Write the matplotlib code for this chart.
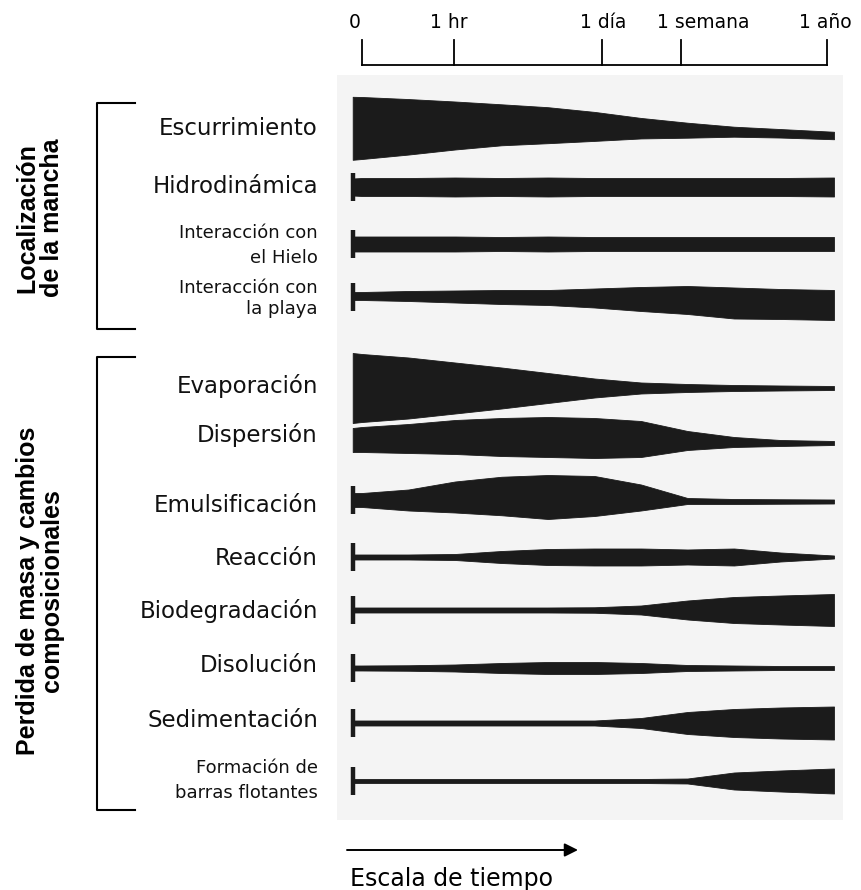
import numpy as np
import matplotlib.pyplot as plt

W, H = 862, 890

# time scale along the top (0 = spill, 1 = one year)
tick_labels = ['0', '1 hr', '1 día', '1 semana', '1 año']
tick_pos = [0.0, 0.198, 0.516, 0.686, 1.0]
label_pos = [-0.015, 0.187, 0.518, 0.733, 0.996]

# sample points along the time axis where the band widths were read
t = [-0.02, 0.0, 0.1, 0.2, 0.3, 0.4, 0.5, 0.6, 0.7, 0.8, 0.9, 1.015]

processes = ['Escurrimiento', 'Hidrodinámica', 'Interacción con\nel Hielo',
             'Interacción con\nla playa', 'Evaporación', 'Dispersión',
             'Emulsificación', 'Reacción', 'Biodegradación', 'Disolución',
             'Sedimentación', 'Formación de\nbarras flotantes']

# relative importance (band thickness) at each sample point
escurrimiento = [63, 62, 55.5, 48, 41, 36, 29, 20.5, 15, 10, 8.5, 7.5]
hidrodinamica = [17, 18, 18, 19, 18, 19, 18, 18, 18, 18, 18, 19]
hielo = [15, 15, 15, 15, 14, 15, 14, 14, 14, 14, 14, 14]
playa = [8, 8, 10, 12, 14, 15, 19, 24, 28, 31, 30, 30]
evaporacion = [70, 68, 61, 51, 41, 30, 19, 11, 8, 6, 5, 4]
dispersion = [24, 25, 29, 34, 38, 40, 40, 36, 19, 10, 6, 4]
emulsificacion = [14, 14, 21, 31, 38.5, 44, 40, 26, 6, 5, 4.5, 4]
reaccion = [5, 5, 5, 6, 12, 16, 17, 17, 15, 17, 9, 3]
biodegradacion = [5, 5, 5, 5, 5, 5, 5.5, 9, 19, 26, 29, 32]
disolucion = [5, 5, 5.5, 7, 10, 12, 12, 10, 6, 5, 4, 4]
sedimentacion = [5, 5, 5, 5, 5, 5, 5, 10, 22, 28, 31, 33]
barras = [4, 4, 4, 4, 4, 4, 4, 4, 5, 17, 21, 25]

widths = [escurrimiento, hidrodinamica, hielo, playa, evaporacion, dispersion,
          emulsificacion, reaccion, biodegradacion, disolucion, sedimentacion, barras]

# drift of the band centre line (only a few bands are not straight)
zero = [0] * 12
drift = [[0.3, 0, -1.2, -2.5, -3.2, -2.8, -1.6, 0.2, 2.2, 3.7, 5.3, 7.5],
         zero, zero,
         [-1, -1, -1, -0.5, 0, 0.5, 1, 2, 3, 6, 7, 8],
         zero,
         [0, -0.5, -1.5, -3, -3, -3, -2, -1, 0.5, 2, 3, 3],
         [0, 0, 0, -3, -4, -3, -4, -2.5, 1, 1.5, 1.5, 1.5],
         zero, zero, zero, zero, zero]

start_mark = [False, True, True, True, False, False, True, True, True, True, True, True]

groups = ['Localización\nde la mancha', 'Perdida de masa y cambios\ncomposicionales']

# layout (pixels from top-left)
row_y = [128, 187, 244, 297, 388, 440, 500, 557, 610, 668, 723, 781]
label_base = [[135], [193], [238, 263], [293, 314], [393], [442], [512],
              [565], [618], [672], [727], [773, 798]]
small_label = [False, False, True, True, False, False, False, False, False,
               False, False, True]
brackets = [(103, 329), (357, 810)]
group_y = [218, 591]

ink = '#1b1b1b'
fig = plt.figure(figsize=(W / 100, H / 100), dpi=100)

# panel with the bands; y in pixel units from the top
px0, px1, py0, py1 = 337, 843, 75, 820
ax = fig.add_axes([px0 / W, 1 - py1 / H, (px1 - px0) / W, (py1 - py0) / H])
x0, x1 = 362, 827
ax.set_xlim((px0 - x0) / (x1 - x0), (px1 - x0) / (x1 - x0))
ax.set_ylim(py1, py0)
ax.set_facecolor('#f4f4f4')
for s in ax.spines.values():
    s.set_visible(False)
ax.set_xticks([])
ax.set_yticks([])

tt = np.array(t)
for i in range(len(processes)):
    w = np.array(widths[i])
    c = row_y[i] + np.array(drift[i])
    ax.fill_between(tt, c - w / 2, c + w / 2, color=ink, lw=0.6, ec=ink)
    if start_mark[i]:
        ax.plot([t[0], t[0]], [row_y[i] - 14, row_y[i] + 14], color=ink,
                lw=3.2, solid_capstyle='butt')

# time scale above the panel
ax.plot([tick_pos[0], tick_pos[-1]], [65, 65], color='black', lw=1.3, clip_on=False)
for p in tick_pos:
    ax.plot([p, p], [65, 40], color='black', lw=1.3, clip_on=False)
for lab, p in zip(tick_labels, label_pos):
    ax.text(p, 28, lab, ha='center', va='baseline', fontsize=13.5,
            family='DejaVu Sans')

# decoration overlay in pixel coordinates
deco = fig.add_axes([0, 0, 1, 1])
deco.set_xlim(0, W)
deco.set_ylim(H, 0)
deco.axis('off')
deco.patch.set_alpha(0)

for i, name in enumerate(processes):
    fs = 13 if small_label[i] else 16.5
    for line, yb in zip(name.split('\n'), label_base[i]):
        deco.text(318, yb, line, ha='right', va='baseline', fontsize=fs,
                  family='DejaVu Sans', color='#111111')

for (ya, yb) in brackets:
    deco.plot([135, 97, 97, 135], [ya, ya, yb, yb], color='black', lw=1.5)

for g, gy in zip(groups, group_y):
    deco.text(40, gy, g, rotation=90, ha='center', va='center', fontsize=18,
              fontweight='bold', family='Liberation Sans', linespacing=1.05,
              multialignment='center')

deco.annotate('', xy=(578, 850), xytext=(347, 850),
              arrowprops=dict(arrowstyle='-|>', lw=1.4, color='black',
                              mutation_scale=20, shrinkA=0, shrinkB=0))
deco.text(350, 886, 'Escala de tiempo', ha='left', va='baseline', fontsize=17,
          family='DejaVu Sans')

fig.savefig('out.png', dpi=100, facecolor='white')
